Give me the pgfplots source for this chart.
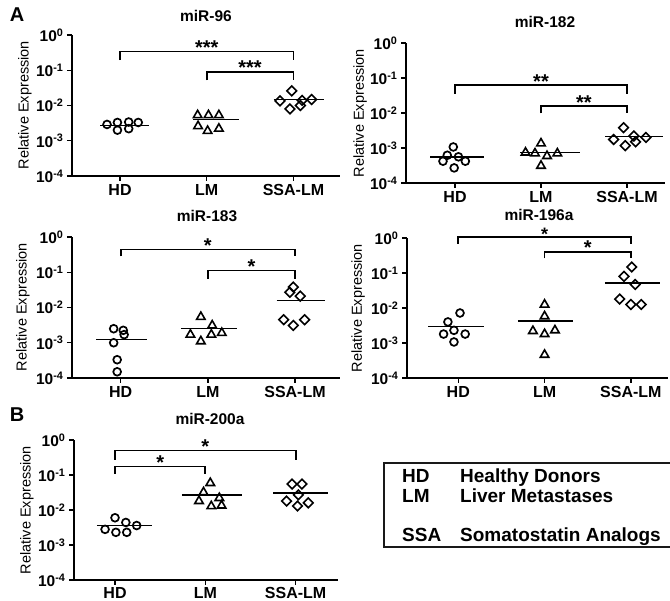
\documentclass[border=0pt]{standalone}
\usepackage{fontspec}
\setmainfont{Liberation Sans}
\usepackage{pgfplots}
\pgfplotsset{compat=1.18}
\usetikzlibrary{plotmarks}
\newcommand{\fs}[1]{\fontsize{#1}{#1}\selectfont}
\newcommand{\dec}[1]{\textbf{10\textsuperscript{#1}}}
\tikzset{
  myhd/.style={only marks, mark=o, mark size=3.9pt, mark options={line width=1.7pt, black}},
  mylm/.style={only marks, mark=triangle, mark size=4.9pt, mark options={line width=1.6pt, black}},
  myssa/.style={only marks, mark=square, mark size=3.4pt, mark options={line width=1.6pt, black, rotate=45}},
  mymean/.style={line width=1.4pt, black},
  mybrk/.style={line width=1.8pt, black},
  mystar/.style={font=\fs{20}\bfseries, anchor=base, inner sep=0pt, yshift=-3pt, text height=0.72em, text depth=0pt},
}
\begin{document}
\begin{tikzpicture}
\path[use as bounding box] (0,0) rectangle (670pt,-601pt);
% ---------- miR-96
\begin{semilogyaxis}[scale only axis, ymin=1e-4, ymax=1,
    axis x line*=bottom, axis y line*=left,
    axis line style={line width=1.7pt, black, -},
    xtick={0,1,2}, xticklabels={HD,LM,SSA-LM},
    ytick={1e-4,1e-3,1e-2,1e-1,1},
    yticklabels={\dec{-4},\dec{-3},\dec{-2},\dec{-1},\dec{0}},
    yminorticks=false, xminorticks=false,
    tick align=outside, major tick length=5pt,
    tick style={line width=1.4pt, black},
    xticklabel style={font=\fs{16}\bfseries, inner sep=3pt},
    yticklabel style={font=\fs{15.5}\bfseries},
    clip=false,
    anchor=south west, at={(72pt,-176pt)}, width=268pt, height=141pt, xmin=-0.554, xmax=2.537]
\addplot[myhd] coordinates {(-0.15,2.9e-3) (-0.03,3.3e-3) (0.10,3.4e-3) (0.21,3.3e-3) (-0.03,2.0e-3) (0.10,2.2e-3)};
\addplot[mymean] coordinates {(-0.23,2.7e-3) (0.33,2.7e-3)};
\addplot[mylm] coordinates {(0.895,5.3e-3) (1.02,5.3e-3) (1.14,5.3e-3) (0.90,2.6e-3) (1.01,1.9e-3) (1.14,2.2e-3)};
\addplot[mymean] coordinates {(0.845,4.0e-3) (1.37,4.0e-3)};
\addplot[myssa] coordinates {(1.98,0.026) (1.845,0.0135) (2.10,0.014) (2.21,0.0148) (1.96,0.0080) (2.08,0.010)};
\addplot[mymean] coordinates {(1.77,0.0148) (2.35,0.0148)};
\addplot[mybrk] coordinates {(0,0.195) (0,0.34) (2,0.34) (2,0.195)};
\addplot[mybrk] coordinates {(1,0.052) (1,0.091) (2,0.091) (2,0.052)};
\node[mystar] at (axis cs:1,0.34) {***};
\node[mystar] at (axis cs:1.5,0.091) {***};
\end{semilogyaxis}
% ---------- miR-182
\begin{semilogyaxis}[scale only axis, ymin=1e-4, ymax=1,
    axis x line*=bottom, axis y line*=left,
    axis line style={line width=1.7pt, black, -},
    xtick={0,1,2}, xticklabels={HD,LM,SSA-LM},
    ytick={1e-4,1e-3,1e-2,1e-1,1},
    yticklabels={\dec{-4},\dec{-3},\dec{-2},\dec{-1},\dec{0}},
    yminorticks=false, xminorticks=false,
    tick align=outside, major tick length=5pt,
    tick style={line width=1.4pt, black},
    xticklabel style={font=\fs{16}\bfseries, inner sep=3pt},
    yticklabel style={font=\fs{15.5}\bfseries},
    clip=false,
    anchor=south west, at={(406pt,-183pt)}, width=259pt, height=140pt, xmin=-0.570, xmax=2.442]
\addplot[myhd] coordinates {(-0.02,1.07e-3) (-0.09,6.2e-4) (0.04,5.6e-4) (-0.14,4.2e-4) (0.12,4.2e-4) (-0.01,2.7e-4)};
\addplot[mymean] coordinates {(-0.29,5.6e-4) (0.34,5.6e-4)};
\addplot[mylm] coordinates {(1.0,1.35e-3) (0.82,7.4e-4) (0.93,7.0e-4) (1.07,5.9e-4) (1.19,7.0e-4) (1.0,3.1e-4)};
\addplot[mymean] coordinates {(0.76,7.3e-4) (1.45,7.3e-4)};
\addplot[myssa] coordinates {(1.96,3.8e-3) (1.845,1.75e-3) (1.98,1.17e-3) (2.08,2.2e-3) (2.10,1.5e-3) (2.22,2.0e-3)};
\addplot[mymean] coordinates {(1.75,2.1e-3) (2.42,2.1e-3)};
\addplot[mybrk] coordinates {(0,0.036) (0,0.063) (2,0.063) (2,0.036)};
\addplot[mybrk] coordinates {(1,0.0098) (1,0.0158) (2,0.0158) (2,0.0098)};
\node[mystar] at (axis cs:1,0.063) {**};
\node[mystar] at (axis cs:1.5,0.0158) {**};
\end{semilogyaxis}
% ---------- miR-183
\begin{semilogyaxis}[scale only axis, ymin=1e-4, ymax=1,
    axis x line*=bottom, axis y line*=left,
    axis line style={line width=1.7pt, black, -},
    xtick={0,1,2}, xticklabels={HD,LM,SSA-LM},
    ytick={1e-4,1e-3,1e-2,1e-1,1},
    yticklabels={\dec{-4},\dec{-3},\dec{-2},\dec{-1},\dec{0}},
    yminorticks=false, xminorticks=false,
    tick align=outside, major tick length=5pt,
    tick style={line width=1.4pt, black},
    xticklabel style={font=\fs{16}\bfseries, inner sep=3pt},
    yticklabel style={font=\fs{15.5}\bfseries},
    clip=false,
    anchor=south west, at={(72pt,-378pt)}, width=268pt, height=141pt, xmin=-0.558, xmax=2.516]
\addplot[myhd] coordinates {(-0.08,2.5e-3) (0.03,2.25e-3) (0.04,1.7e-3) (-0.08,1.0e-3) (-0.04,3.3e-4) (-0.04,1.5e-4)};
\addplot[mymean] coordinates {(-0.28,1.26e-3) (0.30,1.26e-3)};
\addplot[mylm] coordinates {(0.92,5.4e-3) (1.05,3.1e-3) (0.80,1.7e-3) (1.16,1.9e-3) (0.92,1.1e-3) (1.04,1.7e-3)};
\addplot[mymean] coordinates {(0.69,2.5e-3) (1.34,2.5e-3)};
\addplot[myssa] coordinates {(1.98,0.038) (1.94,0.027) (2.06,0.021) (1.87,4.5e-3) (2.11,4.5e-3) (1.98,3.1e-3)};
\addplot[mymean] coordinates {(1.79,0.016) (2.34,0.016)};
\addplot[mybrk] coordinates {(0,0.28) (0,0.44) (2,0.44) (2,0.28)};
\addplot[mybrk] coordinates {(1,0.066) (1,0.112) (2,0.112) (2,0.066)};
\node[mystar] at (axis cs:1,0.44) {*};
\node[mystar] at (axis cs:1.5,0.112) {*};
\end{semilogyaxis}
% ---------- miR-196a
\begin{semilogyaxis}[scale only axis, ymin=1e-4, ymax=1,
    axis x line*=bottom, axis y line*=left,
    axis line style={line width=1.7pt, black, -},
    xtick={0,1,2}, xticklabels={HD,LM,SSA-LM},
    ytick={1e-4,1e-3,1e-2,1e-1,1},
    yticklabels={\dec{-4},\dec{-3},\dec{-2},\dec{-1},\dec{0}},
    yminorticks=false, xminorticks=false,
    tick align=outside, major tick length=5pt,
    tick style={line width=1.4pt, black},
    xticklabel style={font=\fs{16}\bfseries, inner sep=3pt},
    yticklabel style={font=\fs{15.5}\bfseries},
    clip=false,
    anchor=south west, at={(407pt,-378pt)}, width=261pt, height=140pt, xmin=-0.594, xmax=2.430]
\addplot[myhd] coordinates {(0.02,7.2e-3) (-0.12,4.0e-3) (-0.05,2.3e-3) (-0.17,1.8e-3) (0.08,1.8e-3) (-0.05,1.07e-3)};
\addplot[mymean] coordinates {(-0.35,3.0e-3) (0.30,3.0e-3)};
\addplot[mylm] coordinates {(1,0.0125) (1,5.8e-3) (0.865,2.2e-3) (1.12,2.3e-3) (1,1.8e-3) (1,4.6e-4)};
\addplot[mymean] coordinates {(0.69,4.2e-3) (1.33,4.2e-3)};
\addplot[myssa] coordinates {(2.01,0.148) (1.92,0.080) (2.05,0.047) (1.87,0.018) (2.0,0.0126) (2.12,0.0126)};
\addplot[mymean] coordinates {(1.70,0.052) (2.34,0.052)};
\addplot[mybrk] coordinates {(0,0.69) (0,1.07) (2,1.07) (2,0.69)};
\addplot[mybrk] coordinates {(1,0.26) (1,0.40) (2,0.40) (2,0.26)};
\node[mystar, yshift=-1pt, font=\fs{18}\bfseries] at (axis cs:1,1.07) {*};
\node[mystar] at (axis cs:1.5,0.40) {*};
\end{semilogyaxis}
% ---------- miR-200a
\begin{semilogyaxis}[scale only axis, ymin=1e-4, ymax=1,
    axis x line*=bottom, axis y line*=left,
    axis line style={line width=1.7pt, black, -},
    xtick={0,1,2}, xticklabels={HD,LM,SSA-LM},
    ytick={1e-4,1e-3,1e-2,1e-1,1},
    yticklabels={\dec{-4},\dec{-3},\dec{-2},\dec{-1},\dec{0}},
    yminorticks=false, xminorticks=false,
    tick align=outside, major tick length=5pt,
    tick style={line width=1.4pt, black},
    xticklabel style={font=\fs{16}\bfseries, inner sep=2.5pt},
    yticklabel style={font=\fs{15.5}\bfseries},
    clip=false,
    anchor=south west, at={(74pt,-580pt)}, width=264pt, height=140pt, xmin=-0.454, xmax=2.469]
\addplot[myhd] coordinates {(0,6.0e-3) (0.12,4.4e-3) (0.24,3.6e-3) (-0.11,2.8e-3) (0.01,2.3e-3) (0.13,2.3e-3)};
\addplot[mymean] coordinates {(-0.20,3.6e-3) (0.41,3.6e-3)};
\addplot[mylm] coordinates {(1.055,0.059) (0.98,0.032) (1.155,0.022) (0.93,0.018) (1.066,0.0128) (1.18,0.0134)};
\addplot[mymean] coordinates {(0.74,0.027) (1.41,0.027)};
\addplot[myssa] coordinates {(1.96,0.055) (2.07,0.055) (2.03,0.027) (1.90,0.018) (2.14,0.016) (2.02,0.013)};
\addplot[mymean] coordinates {(1.75,0.031) (2.36,0.031)};
\addplot[mybrk] coordinates {(0,0.27) (0,0.50) (2,0.50) (2,0.27)};
\addplot[mybrk] coordinates {(0,0.11) (0,0.174) (1,0.174) (1,0.11)};
\node[mystar] at (axis cs:1,0.50) {*};
\node[mystar] at (axis cs:0.5,0.174) {*};
\end{semilogyaxis}
% ---------- titles, labels
\node[font=\fs{20}\bfseries, anchor=base] at (17pt,-22pt) {A};
\node[font=\fs{20}\bfseries, anchor=base] at (17pt,-422pt) {B};
\node[font=\fs{15.5}\bfseries, anchor=base] at (206pt,-22pt) {miR-96};
\node[font=\fs{15.5}\bfseries, anchor=base] at (545pt,-28pt) {miR-182};
\node[font=\fs{15.5}\bfseries, anchor=base] at (207pt,-222pt) {miR-183};
\node[font=\fs{15.5}\bfseries, anchor=base, inner sep=0pt] at (539pt,-221pt) {miR-196a};
\node[font=\fs{15.5}\bfseries, anchor=base] at (210pt,-425pt) {miR-200a};
\node[font=\fs{14.5}, rotate=90] at (25pt,-105pt) {Relative Expression};
\node[font=\fs{14.5}, rotate=90] at (360pt,-113pt) {Relative Expression};
\node[font=\fs{14.5}, rotate=90] at (23pt,-307pt) {Relative Expression};
\node[font=\fs{14.5}, rotate=90] at (358pt,-308pt) {Relative Expression};
\node[font=\fs{14.5}, rotate=90] at (27pt,-510pt) {Relative Expression};
% ---------- abbreviation box
\draw[line width=1.9pt, black!90] (384pt,-463pt) rectangle (674pt,-547pt);
\begin{scope}[every node/.style={font=\fs{19}\bfseries, anchor=base west, inner sep=0pt}]
\node at (402pt,-483pt) {HD};
\node at (460pt,-483pt) {Healthy Donors};
\node at (402pt,-503pt) {LM};
\node at (460pt,-503pt) {Liver Metastases};
\node at (402pt,-542pt) {SSA};
\node at (460pt,-542pt) {Somatostatin Analogs};
\end{scope}
\end{tikzpicture}
\end{document}
